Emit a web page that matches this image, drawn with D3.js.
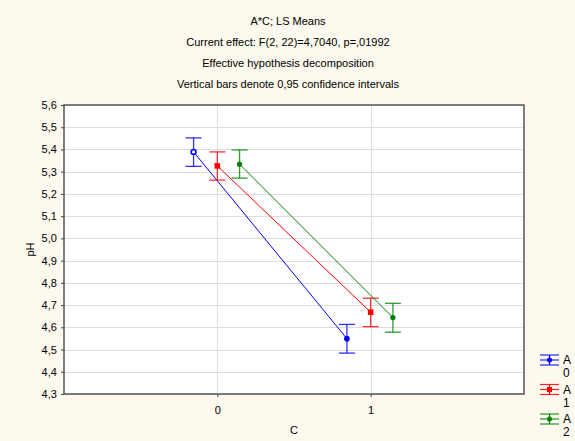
<!DOCTYPE html>
<html>
<head>
<meta charset="utf-8">
<script src="https://cdn.jsdelivr.net/npm/d3@7"></script>
<style>
  body { margin: 0; background: #fdf9ee; }
  svg { display: block; font-family: "Liberation Sans", Arial, sans-serif; }
</style>
</head>
<body>
<div id="chart"></div>
<script>
// chart values
const titleLines = ["A*C; LS Means", "Current effect: F(2, 22)=4,7040, p=,01992",
    "Effective hypothesis decomposition", "Vertical bars denote 0,95 confidence intervals"];
const cLevels = [0, 1];
const aLevels = ["0", "1", "2"];
const seriesColors = ["#0000ff", "#ff0000", "#008000"];
const seriesMeans = [[5.389, 4.549], [5.326, 4.668], [5.334, 4.644]];
const seriesLow   = [[5.324, 4.484], [5.262, 4.603], [5.271, 4.578]];
const seriesHigh  = [[5.452, 4.613], [5.389, 4.731], [5.398, 4.708]];
const yTicks = d3.range(43, 57).map(v => v / 10);

const width = 575, height = 441;
const margin = {top: 105, right: 51, bottom: 47, left: 64};
const innerW = width - margin.left - margin.right;
const innerH = height - margin.top - margin.bottom;

var svg = d3.select("#chart").append("svg")
    .attr("width", width).attr("height", height);
svg.append("rect").attr("width", width).attr("height", height).attr("fill", "#fdf9ee");

//Titles
svg.selectAll("text.title").data(titleLines).enter().append("text")
    .attr("x", 288).attr("y", (d, i) => 25 + i * 21.1)
    .attr("text-anchor", "middle").attr("font-size", 11).attr("fill", "#000")
    .text(d => d);

var g = svg.append("g").attr("transform", `translate(${margin.left}, ${margin.top})`);

var x = d3.scaleLinear().domain([-1, 2]).range([0, innerW]);
var y = d3.scaleLinear().domain([4.3, 5.6]).range([innerH, 0]);

g.append("rect").attr("width", innerW).attr("height", innerH).attr("fill", "#fff");

//grid
g.selectAll("line.hg").data(yTicks).enter().append("line")
    .attr("x1", 0).attr("x2", innerW)
    .attr("y1", d => Math.round(y(d)) + 0.5).attr("y2", d => Math.round(y(d)) + 0.5)
    .attr("stroke", "#dedede");
g.selectAll("line.vg").data(cLevels).enter().append("line")
    .attr("y1", 0).attr("y2", innerH)
    .attr("x1", d => Math.round(x(d)) + 0.5).attr("x2", d => Math.round(x(d)) + 0.5)
    .attr("stroke", "#dedede");

//axes
var yAxis = g.append("g")
    .call(d3.axisLeft(y).tickValues(yTicks).tickSize(3).tickSizeOuter(0)
        .tickFormat(d => d3.format(".1f")(d).replace(".", ",")));
var xAxis = g.append("g").attr("transform", `translate(0, ${innerH})`)
    .call(d3.axisBottom(x).tickValues(cLevels).tickSize(3).tickSizeOuter(0).tickFormat(d3.format("d")));
[yAxis, xAxis].forEach(a => {
    a.select(".domain").remove();
    a.selectAll("line").attr("stroke", "#444");
    a.selectAll("text").attr("font-size", 11).attr("fill", "#000").attr("font-family", "Liberation Sans, Arial, sans-serif");
});
xAxis.selectAll("text").attr("dy", "1.3em");
yAxis.selectAll("text").attr("dx", "-0.1em");

g.append("rect").attr("width", innerW).attr("height", innerH)
    .attr("fill", "none").attr("stroke", "#555").attr("stroke-width", 1.5);

svg.append("text").attr("transform", `translate(34, ${margin.top + innerH / 2}) rotate(-90)`)
    .attr("text-anchor", "middle").attr("font-size", 11).text("pH");
svg.append("text").attr("x", margin.left + x(0.5)).attr("y", 434)
    .attr("text-anchor", "middle").attr("font-size", 11).text("C");

//series
var offsets = [-0.155, 0, 0.145];
var capW = 8;
aLevels.forEach((a, s) => {
    var col = seriesColors[s];
    var pts = cLevels.map((c, i) => ({x: x(c + offsets[s]), m: y(seriesMeans[s][i]),
        lo: y(seriesLow[s][i]), hi: y(seriesHigh[s][i])}));
    var sg = g.append("g");
    sg.append("path").attr("d", d3.line().x(d => d.x).y(d => d.m)(pts))
        .attr("fill", "none").attr("stroke", col).attr("stroke-width", 1);
    pts.forEach((p, i) => {
        sg.append("line").attr("x1", p.x).attr("x2", p.x).attr("y1", p.hi).attr("y2", p.lo)
            .attr("stroke", col).attr("stroke-width", 1.3).attr("opacity", 0.8);
        [p.hi, p.lo].forEach(v => sg.append("line")
            .attr("x1", p.x - capW).attr("x2", p.x + capW).attr("y1", v).attr("y2", v)
            .attr("stroke", col).attr("stroke-width", 1.3).attr("opacity", 0.8));
        if (s === 1) {
            sg.append("rect").attr("x", p.x - 2.8).attr("y", p.m - 2.8).attr("width", 5.6).attr("height", 5.6)
                .attr("fill", col);
        } else if (s === 0 && i === 0) {
            sg.append("circle").attr("cx", p.x).attr("cy", p.m).attr("r", 2.4)
                .attr("fill", "#fff").attr("stroke", col).attr("stroke-width", 1.6);
        } else {
            sg.append("circle").attr("cx", p.x).attr("cy", p.m).attr("r", s === 0 ? 2.8 : 2.6)
                .attr("fill", col);
        }
    });
});

//legend
aLevels.forEach((a, s) => {
    var col = seriesColors[s];
    var ly = 360 + s * 29.5;
    var lg = svg.append("g");
    [-5, 0, 5].forEach(dy => lg.append("line").attr("x1", 540).attr("x2", 559)
        .attr("y1", ly + dy).attr("y2", ly + dy).attr("stroke", col).attr("stroke-width", 1.2).attr("opacity", 0.85));
    lg.append("line").attr("x1", 549.5).attr("x2", 549.5).attr("y1", ly - 5).attr("y2", ly + 5)
        .attr("stroke", col).attr("stroke-width", 1.2);
    if (s === 1) {
        lg.append("rect").attr("x", 547).attr("y", ly - 2.5).attr("width", 5).attr("height", 5).attr("fill", col);
    } else {
        lg.append("circle").attr("cx", 549.5).attr("cy", ly).attr("r", 2.5).attr("fill", col);
    }
    lg.append("text").attr("x", 563).attr("y", ly + 4).attr("font-size", 12).text("A");
    lg.append("text").attr("x", 563).attr("y", ly + 17).attr("font-size", 12).text(a);
});
</script>
</body>
</html>
